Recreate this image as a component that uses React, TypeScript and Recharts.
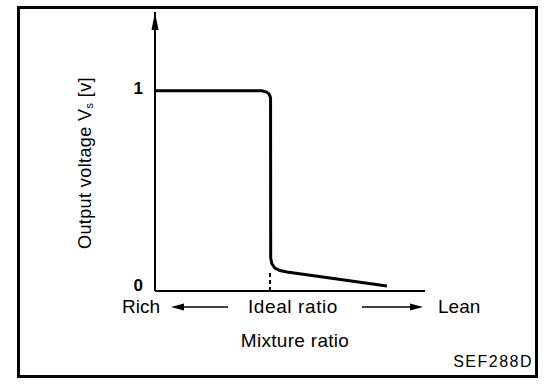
import { LineChart, Line, XAxis, YAxis, ReferenceLine, ReferenceDot } from "recharts";

// mixture ratio (arbitrary units, rich -> lean) and sensor output voltage
const mixture = [0, 39.6, 41.1, 42.2, 42.8, 42.85, 43.3, 44.4, 46.3, 48.9, 85.9];
const voltage = [1, 1, 0.995, 0.985, 0.965, 0.152, 0.122, 0.101, 0.089, 0.081, 0.01];
const yTicks = [0, 1];
const idealRatio = 42.6;

const data = mixture.map((x, i) => ({ x, v: voltage[i] }));

const FONT = '"Liberation Sans", Arial, Helvetica, sans-serif';

const AxisArrow = (props: any) => {
  const { cx, cy } = props;
  return (
    <polygon
      points={`${cx},${cy} ${cx - 3.5},${cy + 18} ${cx + 3.5},${cy + 18}`}
      fill="#000"
    />
  );
};

export default function App() {
  return (
    <div
      style={{
        position: "absolute",
        left: 0,
        top: 0,
        width: 560,
        height: 386,
        background: "#fff",
        fontFamily: FONT,
      }}
    >
      <div
        style={{
          position: "absolute",
          left: 17,
          top: 6,
          width: 521,
          height: 372,
          border: "3px solid #000",
          boxSizing: "border-box",
        }}
      />
      <div style={{ position: "absolute", left: 0, top: 0 }}>
        <LineChart
          width={560}
          height={386}
          data={data}
          margin={{ top: 12, right: 135, bottom: 35, left: 135 }}
        >
          <XAxis
            type="number"
            dataKey="x"
            domain={[0, 100]}
            ticks={[]}
            tickLine={false}
            height={60}
            axisLine={{ stroke: "#000", strokeWidth: 2 }}
          />
          <YAxis
            type="number"
            domain={[-0.015, 1.4]}
            ticks={yTicks}
            width={20}
            tickLine={false}
            tickSize={6}
            tickMargin={6}
            axisLine={{ stroke: "#000", strokeWidth: 2 }}
            tick={{ fill: "#000", fontSize: 17, fontFamily: FONT, fontWeight: 700, dy: -3 }}
          />
          <ReferenceDot
            x={0}
            y={1.4}
            r={0}
            ifOverflow="visible"
            shape={AxisArrow}
          />
          <ReferenceLine
            segment={[
              { x: idealRatio, y: -0.015 },
              { x: idealRatio, y: 0.08 },
            ]}
            stroke="#000"
            strokeWidth={2}
            strokeDasharray="4 3"
          />
          <Line
            type="linear"
            dataKey="v"
            stroke="#000"
            strokeWidth={3}
            dot={false}
            isAnimationActive={false}
          />
        </LineChart>
      </div>
      <svg
        width={560}
        height={386}
        style={{ position: "absolute", left: 0, top: 0, pointerEvents: "none" }}
        fontFamily={FONT}
        fill="#000"
      >
        <text
          x={85}
          y={163}
          fontSize={18}
          textAnchor="middle"
          dominantBaseline="central"
          letterSpacing={0.4}
          transform="rotate(-90 85 163)"
        >
          Output voltage V<tspan fontSize={11} dy={4}>s</tspan>
          <tspan dy={-4}> [v]</tspan>
        </text>
        <text x={122} y={313} fontSize={19}>
          Rich
        </text>
        <line x1={180} y1={307} x2={228} y2={307} stroke="#000" strokeWidth={1.5} />
        <polygon points="171,307 184,303.5 184,310.5" />
        <text x={293} y={313} fontSize={19} textAnchor="middle" letterSpacing={0.6}>
          Ideal ratio
        </text>
        <line x1={362} y1={307} x2={412} y2={307} stroke="#000" strokeWidth={1.5} />
        <polygon points="423,307 410,303.5 410,310.5" />
        <text x={438} y={313} fontSize={19}>
          Lean
        </text>
        <text x={295} y={347} fontSize={19} textAnchor="middle" letterSpacing={0.3}>
          Mixture ratio
        </text>
        <text x={533} y={367} fontSize={16} textAnchor="end" letterSpacing={1.5}>
          SEF288D
        </text>
      </svg>
    </div>
  );
}
